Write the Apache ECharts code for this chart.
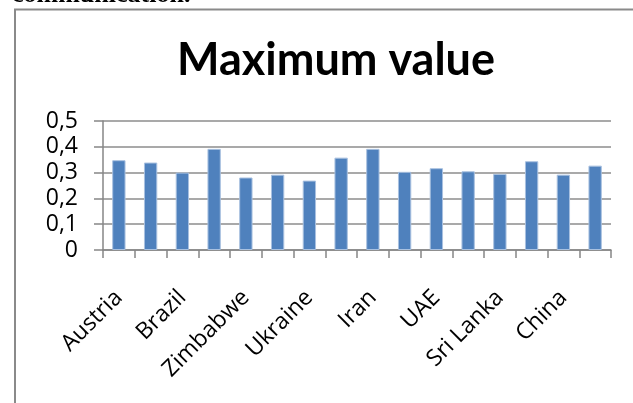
<!DOCTYPE html>
<html>
<head>
<meta charset="utf-8">
<script src="https://cdn.jsdelivr.net/npm/echarts@6/dist/echarts.min.js"></script>
<style>html,body{margin:0;padding:0;background:#fff;}#c{width:633px;height:403px;}</style>
</head>
<body>
<div id="c"></div>
<script>
// Only every other category name is visible in the reference; the hidden ones are guesses.
var categories = ['Austria','Belarus','Brazil','Egypt','Zimbabwe','Nigeria','Ukraine','Russia','Iran','India','UAE','Pakistan','Sri Lanka','Japan','China','Malaysia'];
var maxValues = [0.348,0.339,0.300,0.392,0.281,0.292,0.269,0.358,0.392,0.303,0.317,0.305,0.295,0.344,0.292,0.327];
var yTicks = [0,0.1,0.2,0.3,0.4,0.5];

var chart = echarts.init(document.getElementById('c'));
chart.setOption({
  animation: false,
  backgroundColor: '#fff',
  title: {
    text: 'Maximum value',
    left: 331, top: 33, textAlign: 'center',
    textStyle: {fontFamily: 'Lato', fontWeight: 'bold', fontSize: 45, color: '#000'}
  },
  graphic: [
    {type: 'polyline', shape: {points: [[15, 403], [15, 9.5], [633, 9.5]]},
     style: {stroke: '#8a8a8a', lineWidth: 2, fill: null}},
    {type: 'text', left: 12, top: -18,
     style: {text: 'communication.', font: 'bold 26px "Liberation Serif"', fill: '#000'}}
  ],
  grid: {left: 103, right: 22, top: 121, bottom: 153},
  xAxis: {
    type: 'category',
    data: categories,
    axisLine: {lineStyle: {color: '#868686', width: 1.5}},
    axisTick: {show: true, length: 8, interval: 0, lineStyle: {color: '#868686', width: 1.5}},
    axisLabel: {interval: 1, rotate: 45, margin: 44, fontSize: 23, fontFamily: 'Open Sans', color: '#000'}
  },
  yAxis: {
    type: 'value',
    min: 0, max: 0.5, interval: 0.1,
    axisLine: {show: true, lineStyle: {color: '#868686', width: 1.5}},
    axisTick: {show: true, length: 9, lineStyle: {color: '#868686', width: 1.5}},
    splitLine: {lineStyle: {color: '#8c8c8c', width: 1.5}},
    axisLabel: {
      fontSize: 23, fontFamily: 'Open Sans', color: '#000', margin: 25,
      formatter: function (v) {
        var t = yTicks.filter(function (x) { return Math.abs(x - v) < 1e-9; });
        return t.length ? String(Math.round(v * 10) / 10).replace('.', ',') : '';
      }
    }
  },
  series: [{
    type: 'bar',
    data: maxValues,
    barWidth: '42%',
    itemStyle: {color: '#4F81BD', borderColor: '#a9c1e0', borderWidth: 1}
  }]
});
</script>
</body>
</html>
